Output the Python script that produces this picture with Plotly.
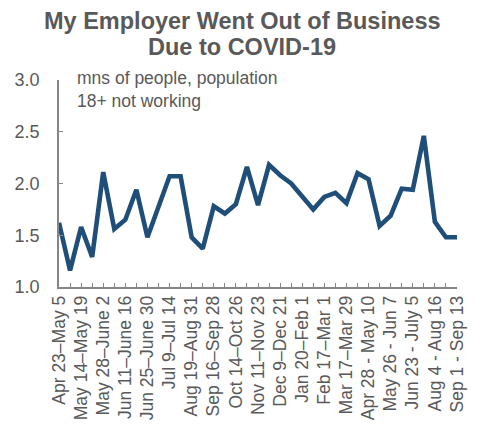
import plotly.graph_objects as go

# Survey weeks (every other week carries a label on the axis)
week_labels = [
    "Apr 23\u2013May 5", "May 14\u2013May 19", "May 28\u2013June 2", "Jun 11\u2013June 16",
    "Jun 25\u2013June 30", "Jul 9\u2013Jul 14", "Aug 19\u2013Aug 31", "Sep 16\u2013Sep 28",
    "Oct 14\u2013Oct 26", "Nov 11\u2013Nov 23", "Dec 9\u2013Dec 21", "Jan 20\u2013Feb 1",
    "Feb 17\u2013Mar 1", "Mar 17\u2013Mar 29", "Apr 28 - May 10", "May 26 - Jun 7",
    "Jun 23 - July 5", "Aug 4 - Aug 16", "Sep 1 - Sep 13",
]

# Millions of people aged 18+ not working because their employer went out of business
people_mns = [
    1.62, 1.16, 1.58, 1.29, 2.11, 1.56, 1.65, 1.94, 1.48, 1.77,
    2.07, 2.07, 1.48, 1.37, 1.78, 1.71, 1.80, 2.16, 1.79, 2.18,
    2.08, 2.00, 1.88, 1.75, 1.87, 1.91, 1.81, 2.10, 2.04, 1.59,
    1.69, 1.95, 1.94, 2.46, 1.63, 1.48, 1.48,
]

y_ticks = [1.0, 1.5, 2.0, 2.5, 3.0]

title_lines = ["My Employer Went Out of Business", "Due to COVID-19"]

n = len(people_mns)
x_idx = list(range(n))
tick_text = [week_labels[i // 2] if i % 2 == 0 else "" for i in x_idx]

FONT = "Liberation Sans, Arial, sans-serif"
TEXT = "#595959"
AXIS = "#868686"

W, H = 479, 433
M_L, M_R, M_T, M_B = 59, 20, 80, 146
PLOT_H = H - M_T - M_B


def paper_y(px):
    """Convert a pixel row (from the top) into paper coordinates."""
    return (H - M_B - px) / PLOT_H


fig = go.Figure()
fig.add_trace(go.Scatter(
    x=x_idx, y=people_mns, mode="lines",
    line=dict(color="#1F4E79", width=4.6),
    hoverinfo="skip",
))

annotations = []
for text, py in zip(title_lines, [21, 47]):
    annotations.append(dict(
        text=f"<b>{text}</b>", xref="paper", yref="paper",
        x=(243 - M_L) / (W - M_L - M_R), y=paper_y(py),
        xanchor="center", yanchor="middle", showarrow=False,
        font=dict(family=FONT, size=23.5, color=TEXT),
    ))
annotations.append(dict(
    text="mns of people, population<br>18+ not working",
    xref="paper", yref="paper", x=(75 - M_L) / (W - M_L - M_R), y=paper_y(66),
    xanchor="left", yanchor="top", align="left", showarrow=False,
    font=dict(family=FONT, size=17.5, color=TEXT),
))

fig.update_layout(
    width=W, height=H,
    margin=dict(l=M_L, r=M_R, t=M_T, b=M_B),
    paper_bgcolor="white", plot_bgcolor="white",
    showlegend=False,
    font=dict(family=FONT, color=TEXT, size=17),
    annotations=annotations,
)

fig.update_xaxes(
    range=[0, n - 1], tickvals=x_idx, ticktext=tick_text, tickangle=-90,
    ticks="inside", ticklen=4, tickcolor=AXIS, tickwidth=1.2,
    showline=True, linecolor=AXIS, linewidth=1.5, showgrid=False, zeroline=False,
    tickfont=dict(size=17.5, color=TEXT), fixedrange=True,
)
fig.update_yaxes(
    range=[1.0, 3.0], tickvals=y_ticks, ticktext=[f"{v:.1f}" for v in y_ticks],
    ticks="inside", ticklen=4, tickcolor=AXIS, tickwidth=1.2,
    showline=True, linecolor=AXIS, linewidth=1.5, showgrid=False, zeroline=False,
    tickfont=dict(size=18, color=TEXT), ticklabelstandoff=14, fixedrange=True,
)

fig.write_html("out.html")
